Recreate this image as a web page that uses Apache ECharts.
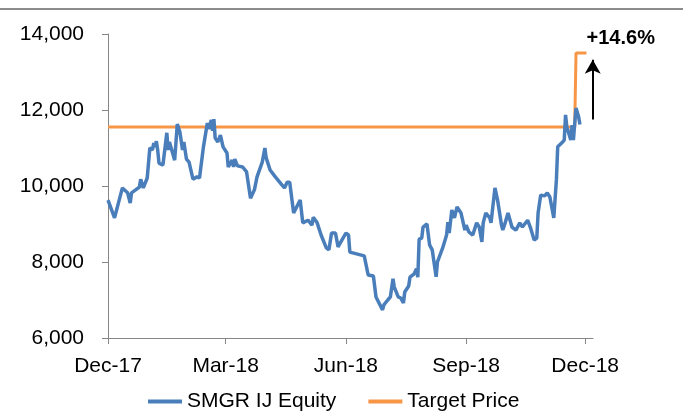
<!DOCTYPE html>
<html>
<head>
<meta charset="utf-8">
<script src="https://cdn.jsdelivr.net/npm/echarts@6/dist/echarts.min.js"></script>
<style>
  html, body { margin: 0; padding: 0; background: #fff; }
  #chart { width: 683px; height: 414px; }
</style>
</head>
<body>
<div id="chart"></div>
<script>
// days counted from 1 Dec 2017
var xTickLabels = ['Dec-17', 'Mar-18', 'Jun-18', 'Sep-18', 'Dec-18'];
var xTickDays = [0, 90, 182, 274, 365];

var priceDays = [0, 5, 11, 15, 17, 18, 24, 25, 27, 30, 31, 32, 34, 35, 36, 37, 38, 39, 42, 45,
  46, 47, 51, 53, 55, 57, 58, 60, 62, 65, 68, 70, 73, 76, 77, 79, 80, 81, 82, 84,
  86, 88, 91, 92, 95, 96, 97, 99, 103, 106, 109, 112, 114, 118, 120, 121, 124, 128, 133, 135,
  137, 139, 142, 147, 149, 153, 156, 157, 160, 163, 164, 167, 169, 171, 174, 176, 179, 182, 184, 185,
  196, 199, 203, 205, 206, 210, 211, 212, 214, 216, 218, 219, 222, 224, 226, 227, 230, 231, 234, 236,
  237, 238, 240, 241, 244, 246, 248, 251, 252, 256, 259, 260, 261, 263, 265, 267, 270, 271, 273, 274,
  276, 279, 282, 284, 286, 287, 289, 292, 293, 296, 298, 301, 302, 304, 306, 309, 312, 315, 317, 321,
  323, 326, 328, 329, 331, 334, 336, 338, 341, 342, 343, 344, 347, 349, 350, 351, 354, 355, 356, 358,
  360, 361];
var priceValues = [9630, 9160, 9950, 9820, 9550, 9820, 9970, 10180, 9950, 10210, 10260, 11000, 10950, 11130, 11030, 11180, 10950, 10600, 10550, 11400,
  10950, 11160, 10680, 11630, 11420, 10950, 11160, 10710, 10630, 10180, 10240, 10210, 11030, 11660, 11500, 11740, 11450, 11760, 11260, 11160,
  11340, 11030, 10870, 10500, 10680, 10500, 10710, 10530, 10500, 10370, 9680, 9900, 10240, 10630, 11000, 10740, 10420, 10240, 10030, 9950,
  10100, 10100, 9290, 9630, 9030, 9100, 8970, 9180, 9030, 8710, 8660, 8370, 8320, 8760, 8760, 8400, 8580, 8760, 8710, 8260,
  8160, 7660, 7630, 7080, 7100, 6740, 6870, 6840, 7000, 7080, 7560, 7340, 7080, 7050, 6920, 7210, 7370, 7600, 7680, 7820,
  7600, 8600, 8630, 8920, 9000, 8450, 8320, 7610, 8000, 8370, 8710, 9050, 8760, 9370, 9160, 9450, 9290, 9290, 8840, 8970,
  8790, 8710, 9030, 8920, 8530, 9030, 9290, 9160, 9030, 9950, 9630, 8970, 8840, 9050, 9290, 8920, 8840, 9030, 8920, 9100,
  8920, 8580, 8630, 9290, 9760, 9740, 9820, 9710, 9160, 9160, 10160, 11030, 11130, 11210, 11870, 11550, 11210, 11600, 11210, 12050,
  11820, 11620];

var targetDays = [0, 357, 358, 366];
var targetValues = [11550, 11550, 13500, 13500];

var upside = '+14.6%';

function pairs(xs, ys) {
  return xs.map(function (d, i) { return [d, ys[i]]; });
}

var chart = echarts.init(document.getElementById('chart'), null, { renderer: 'canvas' });
var fontFamily = '"Liberation Sans", Arial, sans-serif';

var option = {
  backgroundColor: '#fff',
  animation: false,
  textStyle: { fontFamily: fontFamily },
  graphic: [{
    type: 'line',
    shape: { x1: 0, y1: 9, x2: 683, y2: 9 },
    style: { stroke: '#8c8c8c', lineWidth: 2 }
  }],
  grid: { left: 108, right: 90, top: 34, bottom: 76 },
  legend: {
    top: 391,
    left: 148,
    padding: 0,
    icon: 'rect',
    itemWidth: 34,
    itemHeight: 4,
    itemGap: 32,
    data: ['SMGR IJ Equity', 'Target Price'],
    textStyle: { fontSize: 21, color: '#000', fontFamily: fontFamily }
  },
  xAxis: {
    type: 'value',
    min: 0,
    max: 371,
    axisLine: { show: true, lineStyle: { color: '#868686', width: 1 } },
    axisTick: { show: true, length: 6, customValues: xTickDays, lineStyle: { color: '#868686' } },
    splitLine: { show: false },
    axisLabel: {
      customValues: xTickDays,
      margin: 18,
      fontSize: 21,
      color: '#000',
      fontFamily: fontFamily,
      formatter: function (v) {
        var i = xTickDays.indexOf(v);
        return i >= 0 ? xTickLabels[i] : '';
      }
    }
  },
  yAxis: {
    type: 'value',
    min: 6000,
    max: 14000,
    interval: 2000,
    axisLine: { show: true, lineStyle: { color: '#868686', width: 1 } },
    axisTick: { show: true, length: 6, lineStyle: { color: '#868686' } },
    splitLine: { show: false },
    axisLabel: {
      margin: 24,
      fontSize: 21,
      color: '#000',
      fontFamily: fontFamily,
      formatter: function (v) { return v.toLocaleString('en-US'); }
    }
  },
  series: [
    {
      name: 'SMGR IJ Equity',
      type: 'line',
      z: 3,
      data: pairs(priceDays, priceValues),
      showSymbol: false,
      symbol: 'none',
      color: '#4a7ebb',
      lineStyle: { width: 3.5, color: '#4a7ebb' }
    },
    {
      name: 'Target Price',
      type: 'line',
      z: 2,
      data: pairs(targetDays, targetValues),
      showSymbol: false,
      symbol: 'none',
      color: '#f79646',
      lineStyle: { width: 3, color: '#f79646' },
      markLine: {
        silent: true,
        symbol: ['none', 'arrow'],
        symbolSize: [12, 14],
        lineStyle: { color: '#000', width: 2, type: 'solid' },
        label: {
          show: true,
          position: 'end',
          formatter: upside,
          fontSize: 20,
          fontWeight: 'bold',
          color: '#000',
          fontFamily: fontFamily,
          offset: [28, -6]
        },
        data: [[{ coord: [370.8, 11750] }, { coord: [370.8, 13320] }]]
      }
    }
  ]
};

chart.setOption(option);
</script>
</body>
</html>
